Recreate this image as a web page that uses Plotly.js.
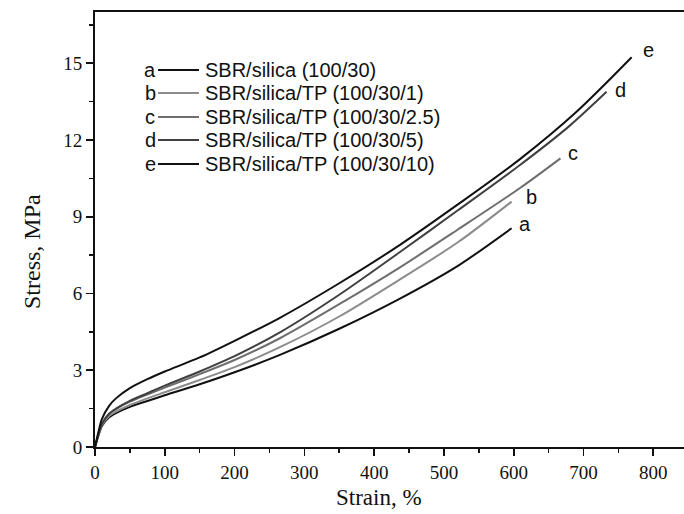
<!DOCTYPE html>
<html>
<head>
<meta charset="utf-8">
<script src="https://cdn.plot.ly/plotly-3.0.1.min.js"></script>
<style>html,body{margin:0;padding:0;background:#fff;}#chart{width:684px;height:514px;}</style>
</head>
<body>
<div id="chart"></div>
<script>
// ---- data ----
var letters = ["a", "b", "c", "d", "e"];
var seriesNames = [
  "SBR/silica (100/30)",
  "SBR/silica/TP (100/30/1)",
  "SBR/silica/TP (100/30/2.5)",
  "SBR/silica/TP (100/30/5)",
  "SBR/silica/TP (100/30/10)"
];
var strainA = [0, 5, 10, 20, 30, 50, 75, 100, 150, 200, 265, 350, 437, 520, 597];
var stressA = [0, 0.45, 0.82, 1.15, 1.32, 1.57, 1.80, 2.02, 2.45, 2.92, 3.60, 4.62, 5.80, 7.08, 8.55];
var strainB = [0, 5, 10, 20, 30, 50, 75, 100, 150, 200, 265, 350, 437, 520, 597];
var stressB = [0, 0.48, 0.85, 1.20, 1.38, 1.64, 1.90, 2.14, 2.62, 3.12, 3.90, 5.10, 6.55, 8.00, 9.59];
var strainC = [0, 5, 10, 20, 30, 50, 75, 100, 150, 200, 265, 350, 437, 520, 609, 667];
var stressC = [0, 0.50, 0.90, 1.28, 1.48, 1.77, 2.05, 2.32, 2.85, 3.40, 4.25, 5.58, 7.02, 8.50, 10.12, 11.28];
var strainD = [0, 5, 10, 20, 30, 50, 75, 100, 150, 200, 265, 350, 437, 520, 609, 680, 733];
var stressD = [0, 0.50, 0.90, 1.30, 1.50, 1.80, 2.10, 2.40, 2.95, 3.55, 4.48, 5.95, 7.62, 9.25, 11.02, 12.55, 13.88];
var strainE = [0, 5, 10, 20, 30, 50, 75, 100, 150, 200, 265, 350, 437, 520, 609, 690, 769];
var stressE = [0, 0.60, 1.10, 1.60, 1.90, 2.30, 2.65, 2.95, 3.50, 4.15, 5.05, 6.40, 7.90, 9.48, 11.25, 13.10, 15.23];
// curve-end label positions (data units)
var labelX = [616, 626, 685, 753, 793];
var labelY = [8.71, 9.77, 11.49, 13.95, 15.51];
var xTickVals = [0, 100, 200, 300, 400, 500, 600, 700, 800];
var yTickVals = [0, 3, 6, 9, 12, 15];
var xTitle = "Strain, %";
var yTitle = "Stress, MPa";

// ---- styles ----
var colors = ["#111111", "#8c8c8c", "#6e6e6e", "#404040", "#111111"];
var xs = [strainA, strainB, strainC, strainD, strainE];
var ys = [stressA, stressB, stressC, stressD, stressE];

var traces = xs.map(function (x, i) {
  return {
    x: x, y: ys[i], type: "scatter", mode: "lines", name: seriesNames[i],
    line: {color: colors[i], width: 2, shape: "spline", smoothing: 0.8},
    showlegend: false, hoverinfo: "skip"
  };
});

var sans = "Liberation Sans, Arial, sans-serif";
var serif = "Liberation Serif, Times New Roman, serif";

var annotations = [];
var shapes = [];
letters.forEach(function (L, i) {
  annotations.push({x: labelX[i], y: labelY[i], xref: "x", yref: "y", text: L, showarrow: false,
    font: {family: sans, size: 20, color: "#111"}, xanchor: "center", yanchor: "middle"});
});

// manual legend (pixel layout converted to paper coords)
var L0 = 95, PW = 589, B0 = 447, PH = 435;
function px(p) { return (p - L0) / PW; }
function py(p) { return (B0 - p) / PH; }
var rowY = [70, 93, 117, 140, 164];
letters.forEach(function (L, i) {
  annotations.push({x: px(150), y: py(rowY[i]), xref: "paper", yref: "paper", text: L, showarrow: false,
    font: {family: sans, size: 20, color: "#111"}, xanchor: "center", yanchor: "middle"});
  shapes.push({type: "line", xref: "paper", yref: "paper", x0: px(158), x1: px(199), y0: py(rowY[i]), y1: py(rowY[i]),
    line: {color: colors[i], width: 2}});
  annotations.push({x: px(203), y: py(rowY[i]), xref: "paper", yref: "paper", text: seriesNames[i], showarrow: false,
    font: {family: sans, size: 20, color: "#111"}, xanchor: "left", yanchor: "middle"});
});
// axis titles placed as in the reference
annotations.push({x: px(379), y: py(497), xref: "paper", yref: "paper", text: xTitle, showarrow: false,
  font: {family: serif, size: 23, color: "#111"}, xanchor: "center", yanchor: "middle"});
annotations.push({x: px(32), y: py(252), xref: "paper", yref: "paper", text: yTitle, showarrow: false, textangle: -90,
  font: {family: serif, size: 24, color: "#111"}, xanchor: "center", yanchor: "middle"});

var layout = {
  width: 684, height: 514,
  margin: {l: 95, r: 0, t: 12, b: 67, pad: 0},
  paper_bgcolor: "#fff", plot_bgcolor: "#fff",
  showlegend: false,
  xaxis: {
    range: [0, 844], tickvals: xTickVals, ticks: "outside", ticklen: 7, tickwidth: 1.6, tickcolor: "#111",
    minor: {dtick: 50, tick0: 0, ticks: "outside", ticklen: 4, tickwidth: 1.6, tickcolor: "#111", showgrid: false},
    showgrid: false, zeroline: false, showline: true, linecolor: "#111", linewidth: 2, mirror: true,
    tickfont: {family: serif, size: 19, color: "#111"}
  },
  yaxis: {
    range: [0, 17], tickvals: yTickVals, ticks: "outside", ticklen: 7, tickwidth: 1.6, tickcolor: "#111",
    minor: {dtick: 1.5, tick0: 0, ticks: "outside", ticklen: 4, tickwidth: 1.6, tickcolor: "#111", showgrid: false},
    showgrid: false, zeroline: false, showline: true, linecolor: "#111", linewidth: 2,
    tickfont: {family: serif, size: 19, color: "#111"}
  },
  annotations: annotations,
  shapes: shapes
};

Plotly.newPlot("chart", traces, layout, {staticPlot: true, displayModeBar: false});
</script>
</body>
</html>
